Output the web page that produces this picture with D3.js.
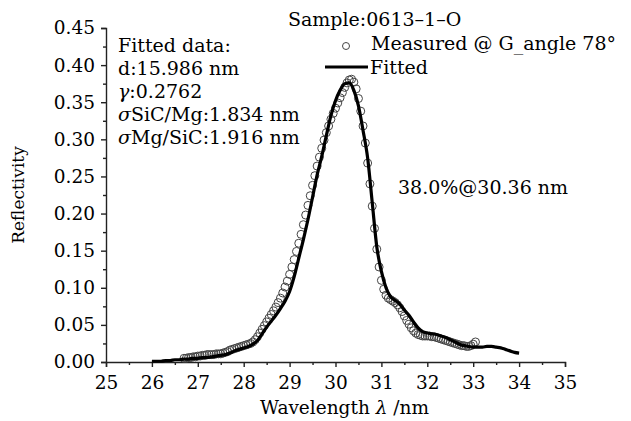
<!DOCTYPE html>
<html>
<head>
<meta charset="utf-8">
<script src="https://cdn.jsdelivr.net/npm/d3@7"></script>
<style>
  body { margin: 0; background: #fff; }
  svg text { font-family: "DejaVu Serif", "Liberation Serif", serif; fill: #000; }
</style>
</head>
<body>
<div id="chart"></div>
<script>
// fitted curve, wavelength (nm) and reflectivity
const fittedWl = [26.0,26.1,26.2,26.3,26.4,26.5,26.6,26.7,26.8,26.9,27.0,27.1,27.2,27.3,27.4,27.5,27.6,27.7,27.8,27.9,
  28.0,28.1,28.2,28.3,28.4,28.5,28.6,28.7,28.8,28.9,29.0,29.1,29.2,29.3,29.4,29.5,29.6,29.7,29.8,29.9,
  30.0,30.1,30.2,30.3,30.4,30.5,30.6,30.7,30.8,30.9,31.0,31.1,31.2,31.3,31.4,31.5,31.6,31.7,31.8,31.9,
  32.0,32.1,32.2,32.3,32.4,32.5,32.6,32.7,32.8,32.9,33.0,33.1,33.2,33.3,33.4,33.5,33.6,33.7,33.8,33.9,34.0];
const fittedR = [0.001,0.001,0.001,0.002,0.002,0.003,0.003,0.004,0.004,0.005,0.005,0.006,0.006,0.007,0.008,0.009,0.010,0.012,0.015,0.017,
  0.019,0.021,0.024,0.029,0.038,0.047,0.055,0.063,0.072,0.082,0.095,0.115,0.140,0.165,0.192,0.222,0.252,0.277,0.305,0.332,
  0.352,0.366,0.375,0.376,0.366,0.345,0.312,0.275,0.215,0.155,0.122,0.100,0.088,0.083,0.078,0.070,0.063,0.054,0.046,0.041,
  0.039,0.038,0.037,0.035,0.033,0.030,0.027,0.024,0.022,0.021,0.020,0.020,0.020,0.021,0.021,0.020,0.019,0.017,0.015,0.013,0.012];

// measured points
const measuredWl = [26.70,26.75,26.80,26.85,26.90,26.95,27.00,27.05,27.10,27.15,27.20,27.25,27.30,27.35,27.40,27.45,27.50,27.55,27.60,27.65,
  27.70,27.75,27.80,27.85,27.90,27.95,28.00,28.05,28.10,28.15,28.20,28.25,28.30,28.35,28.40,28.45,28.50,28.55,28.60,28.65,
  28.70,28.75,28.80,28.85,28.90,28.95,29.00,29.05,29.10,29.15,29.20,29.25,29.30,29.35,29.40,29.45,29.50,29.55,29.60,29.65,
  29.70,29.75,29.80,29.85,29.90,29.95,30.00,30.05,30.10,30.15,30.20,30.25,30.30,30.35,30.40,30.45,30.50,30.55,30.60,30.65,
  30.70,30.75,30.80,30.85,30.90,30.95,31.00,31.05,31.10,31.15,31.20,31.25,31.30,31.35,31.40,31.45,31.50,31.55,31.60,31.65,
  31.70,31.75,31.80,31.85,31.90,31.95,32.00,32.05,32.10,32.15,32.20,32.25,32.30,32.35,32.40,32.45,32.50,32.55,32.60,32.65,
  32.70,32.75,32.80,32.85,32.90,32.95,33.00,33.05];
const measuredR = [0.005,0.005,0.006,0.006,0.007,0.007,0.008,0.008,0.009,0.009,0.010,0.010,0.010,0.010,0.011,0.011,0.011,0.012,0.013,0.014,
  0.016,0.017,0.018,0.019,0.020,0.021,0.022,0.023,0.024,0.025,0.027,0.030,0.034,0.039,0.044,0.049,0.054,0.059,0.064,0.069,
  0.074,0.080,0.086,0.093,0.101,0.109,0.118,0.128,0.138,0.149,0.160,0.172,0.185,0.198,0.211,0.224,0.238,0.251,0.264,0.276,
  0.288,0.299,0.309,0.318,0.327,0.335,0.342,0.349,0.356,0.363,0.370,0.376,0.380,0.381,0.377,0.368,0.355,0.338,0.318,0.295,
  0.268,0.240,0.210,0.180,0.152,0.128,0.110,0.098,0.090,0.086,0.084,0.082,0.080,0.077,0.073,0.068,0.062,0.056,0.051,0.046,
  0.042,0.039,0.037,0.036,0.035,0.035,0.035,0.035,0.034,0.034,0.033,0.032,0.031,0.030,0.029,0.028,0.027,0.026,0.025,0.024,
  0.023,0.022,0.022,0.021,0.021,0.022,0.024,0.027];

const xTicks = [25,26,27,28,29,30,31,32,33,34,35];
const yTicks = [0,0.05,0.10,0.15,0.20,0.25,0.30,0.35,0.40,0.45];
const fitInfo = ["Fitted data:", "d:15.986 nm", "γ:0.2762", "σSiC/Mg:1.834 nm", "σMg/SiC:1.916 nm"];

const W = 631, H = 421;
const margin = {left: 106, right: 66, top: 28, bottom: 59};

const svg = d3.select("#chart").append("svg")
  .attr("width", W).attr("height", H);

const x = d3.scaleLinear().domain([25, 35]).range([margin.left, W - margin.right]);
const y = d3.scaleLinear().domain([0, 0.45]).range([H - margin.bottom, margin.top]);

// x axis
svg.append("g")
  .attr("transform", `translate(0,${y(0)})`)
  .call(d3.axisBottom(x).tickValues(xTicks).tickFormat(d3.format("d")).tickSize(5).tickPadding(9));
svg.append("g")
  .attr("transform", `translate(0,${y(0)})`)
  .call(d3.axisBottom(x).tickValues(xTicks.slice(0, -1).map(d => d + 0.5)).tickFormat("").tickSize(3))
  .select(".domain").remove();

// y axis
svg.append("g")
  .attr("transform", `translate(${margin.left},0)`)
  .call(d3.axisLeft(y).tickValues(yTicks).tickFormat(d3.format(".2f")).tickSize(5).tickPadding(6));
svg.append("g")
  .attr("transform", `translate(${margin.left},0)`)
  .call(d3.axisLeft(y).tickValues(yTicks.slice(0, -1).map(d => d + 0.025)).tickFormat("").tickSize(3))
  .select(".domain").remove();

svg.selectAll(".domain").attr("stroke", "#222").attr("stroke-width", 1.4);
svg.selectAll(".tick line").attr("stroke", "#222").attr("stroke-width", 1.4);
svg.selectAll(".tick text").attr("font-size", 18.5).attr("fill", "#000")
  .style("font-family", "'DejaVu Serif', serif");

// axis titles
svg.append("text")
  .attr("transform", `translate(24,${(y(0) + y(0.45)) / 2}) rotate(-90)`)
  .attr("text-anchor", "middle")
  .attr("font-size", 17)
  .text("Reflectivity");

svg.append("text")
  .attr("x", (x(25) + x(35)) / 2 + 9).attr("y", 414)
  .attr("text-anchor", "middle")
  .attr("font-size", 18.5)
  .html("Wavelength <tspan font-style='italic'>λ</tspan> /nm");

// measured circles
svg.append("g").selectAll("circle")
  .data(measuredWl.map((d, i) => [d, measuredR[i]]))
  .join("circle")
  .attr("cx", d => x(d[0]))
  .attr("cy", d => y(d[1]))
  .attr("r", 4)
  .attr("fill", "none")
  .attr("stroke", "#444")
  .attr("stroke-width", 1);

// fitted line
svg.append("path")
  .datum(fittedWl.map((d, i) => [d, fittedR[i]]))
  .attr("fill", "none")
  .attr("stroke", "#000")
  .attr("stroke-width", 3.2)
  .attr("d", d3.line().x(d => x(d[0])).y(d => y(d[1])).curve(d3.curveMonotoneX));

// fitted parameters
svg.append("g").selectAll("text")
  .data(fitInfo)
  .join("text")
  .attr("x", 118)
  .attr("y", (d, i) => 52 + i * 23)
  .attr("font-size", 19)
  .html(d => d.replace("γ", "<tspan font-style='italic'>γ</tspan>").replace("σ", "<tspan font-style='italic'>σ</tspan>"));

// legend
svg.append("text").attr("x", 288).attr("y", 26).attr("font-size", 19).text("Sample:0613–1–O");
svg.append("circle").attr("cx", 346).attr("cy", 46).attr("r", 3.5)
  .attr("fill", "none").attr("stroke", "#444").attr("stroke-width", 1);
svg.append("text").attr("x", 371).attr("y", 50).attr("font-size", 19).text("Measured @ G_angle 78°");
svg.append("line").attr("x1", 325).attr("x2", 368).attr("y1", 67).attr("y2", 67)
  .attr("stroke", "#000").attr("stroke-width", 3);
svg.append("text").attr("x", 370).attr("y", 74).attr("font-size", 19).text("Fitted");

// peak annotation
svg.append("text").attr("x", 398).attr("y", 194).attr("font-size", 19).text("38.0%@30.36 nm");
</script>
</body>
</html>
